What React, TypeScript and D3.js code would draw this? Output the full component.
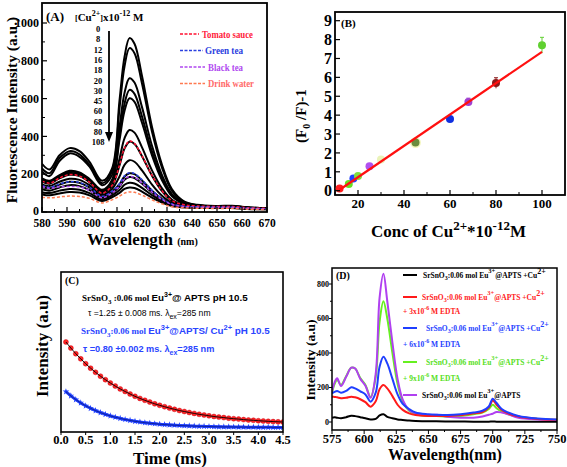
import React from 'react';
import * as d3 from 'd3';

const SERIF = "'Liberation Serif','Times New Roman',serif";
const SANS = "'Liberation Sans',Arial,sans-serif";

// ---------- Panel A ----------
const A_WL = [580, 583, 587, 591, 595, 599, 604, 608, 611, 613, 615, 617, 620, 624, 628, 632, 637, 642, 650, 656, 662, 670];
const A_CONC = ['0', '8', '12', '16', '18', '20', '30', '45', '60', '68', '80', '108'];
const A_C0 = [255, 225, 300, 338, 322, 265, 165, 230, 590, 820, 920, 890, 720, 450, 250, 120, 55, 38, 32, 33, 25, 20];
const A_C8 = [230, 205, 285, 322, 305, 250, 152, 215, 550, 770, 867, 840, 680, 425, 235, 112, 52, 36, 30, 32, 24, 20];
const A_C12 = [215, 190, 270, 310, 292, 240, 142, 195, 450, 630, 708, 685, 555, 350, 195, 95, 48, 35, 30, 31, 24, 20];
const A_C16 = [178, 165, 195, 218, 210, 175, 118, 170, 405, 572, 646, 625, 505, 320, 180, 88, 45, 34, 29, 30, 23, 19];
const A_C18 = [172, 160, 190, 212, 205, 170, 112, 162, 380, 535, 602, 583, 472, 300, 168, 83, 43, 33, 28, 29, 22, 19];
const A_C20 = [166, 155, 185, 206, 198, 165, 106, 145, 282, 390, 434, 420, 342, 220, 125, 65, 38, 31, 27, 28, 22, 18];
const A_C30 = [160, 150, 178, 197, 190, 158, 100, 138, 246, 336, 372, 360, 295, 192, 110, 58, 36, 30, 27, 27, 21, 18];
const A_C45 = [145, 137, 160, 176, 170, 142, 90, 122, 188, 249, 274, 266, 220, 145, 86, 48, 32, 28, 25, 26, 20, 17];
const A_C60 = [132, 125, 145, 160, 154, 130, 82, 108, 147, 188, 205, 200, 167, 113, 70, 41, 29, 26, 24, 24, 19, 16];
const A_C68 = [120, 113, 130, 142, 137, 116, 75, 100, 135, 171, 185, 180, 151, 103, 65, 39, 28, 25, 23, 23, 18, 16];
const A_C80 = [105, 100, 113, 122, 118, 100, 66, 88, 116, 144, 155, 151, 128, 89, 57, 35, 26, 23, 22, 22, 17, 15];
const A_C108 = [93, 88, 98, 106, 103, 88, 58, 78, 101, 122, 130, 127, 108, 76, 50, 32, 24, 22, 21, 21, 16, 14];
const A_TOMATO = [165, 152, 180, 198, 190, 158, 100, 140, 248, 338, 375, 362, 297, 194, 112, 60, 38, 32, 29, 29, 23, 19];
const A_GREENTEA = [140, 130, 148, 160, 156, 131, 83, 110, 149, 191, 208, 203, 170, 115, 71, 42, 30, 27, 25, 25, 20, 17];
const A_BLACKTEA = [135, 125, 133, 135, 133, 114, 76, 101, 137, 173, 188, 183, 153, 105, 66, 40, 29, 26, 24, 24, 19, 17];
const A_WATER = [78, 75, 80, 84, 82, 72, 48, 64, 84, 100, 106, 104, 89, 64, 43, 28, 22, 20, 19, 19, 15, 13];
const A_LEGEND = ['Tomato sauce', 'Green tea', 'Black tea', 'Drink water'];
const A_X_TICKS = [580, 590, 600, 610, 620, 630, 640, 650, 660, 670];
const A_Y_TICKS = [0, 200, 400, 600, 800, 1000];

// ---------- Panel B ----------
const B_CONC = [12, 16, 18, 20, 25, 30, 45, 60, 68, 80, 100];
const B_RATIO = [0.12, 0.35, 0.65, 0.78, 1.3, 1.65, 2.55, 3.8, 4.7, 5.7, 7.7];
const B_ERR = [0.05, 0.05, 0.08, 0.08, 0.1, 0.12, 0.12, 0.1, 0.2, 0.28, 0.42];
const B_COLORS = ['#ff2020', '#66e020', '#2040ff', '#80e040', '#b050f0', '#eaf3b8', '#6b8c3e', '#1030e0', '#a040d0', '#8b1a1a', '#60d030'];
const B_FIT_X = [12, 100];
const B_FIT_Y = [0.05, 7.35];
const B_X_TICKS = [20, 40, 60, 80, 100];
const B_Y_TICKS = [0, 1, 2, 3, 4, 5, 6, 7, 8, 9];

// ---------- Panel C ----------
const C_T = [0.1, 0.2, 0.3, 0.4, 0.5, 0.6, 0.7, 0.8, 0.9, 1.0, 1.1, 1.2, 1.3, 1.4, 1.5, 1.6, 1.7, 1.8, 1.9, 2.0, 2.1, 2.2, 2.3, 2.4, 2.5, 2.6, 2.7, 2.8, 2.9, 3.0, 3.1, 3.2, 3.3, 3.4, 3.5, 3.6, 3.7, 3.8, 3.9, 4.0, 4.1, 4.2, 4.3, 4.4, 4.5];
const C_APTS = [90, 83.9, 78.3, 73.2, 68.3, 63.8, 59.7, 55.8, 52.3, 49.0, 45.9, 43.1, 40.5, 38.0, 35.7, 33.6, 31.7, 29.9, 28.2, 26.7, 25.3, 23.9, 22.7, 21.5, 20.5, 19.5, 18.6, 17.7, 17.0, 16.2, 15.5, 14.9, 14.4, 13.8, 13.3, 12.9, 12.4, 12.0, 11.7, 11.3, 11.0, 10.7, 10.4, 10.2, 10.0];
const C_CU = [40.3, 36.1, 32.4, 29.1, 26.2, 23.7, 21.4, 19.4, 17.7, 16.1, 14.8, 13.6, 12.5, 11.6, 10.7, 10.0, 9.3, 8.8, 8.3, 7.8, 7.4, 7.1, 6.8, 6.5, 6.3, 6.1, 5.9, 5.7, 5.6, 5.5, 5.3, 5.2, 5.1, 5.1, 5.0, 4.9, 4.9, 4.8, 4.8, 4.7, 4.7, 4.7, 4.6, 4.6, 4.6];
const C_X_TICKS = [0, 0.5, 1.0, 1.5, 2.0, 2.5, 3.0, 3.5, 4.0, 4.5];

// ---------- Panel D ----------
const D_WL = [575, 577, 579, 582, 586, 590, 593, 597, 601, 605, 609, 612, 615, 618, 622, 626, 630, 635, 640, 650, 656, 665, 675, 685, 692, 697, 700, 703, 707, 712, 720, 735, 750];
const D_CU = [25, 28, 25, 22, 28, 36, 34, 28, 22, 15, 18, 38, 45, 30, 22, 15, 12, 8, 6, 4, 4, 3, 3, 2, 2, 2, 3, 2, 2, 2, 2, 2, 2];
const D_EDTA3 = [147, 145, 143, 138, 140, 147, 143, 132, 115, 89, 120, 190, 214, 195, 150, 100, 70, 50, 40, 35, 35, 35, 40, 50, 58, 85, 125, 100, 70, 50, 32, 18, 13];
const D_EDTA6 = [166, 175, 180, 170, 180, 201, 195, 178, 160, 118, 170, 320, 378, 340, 250, 160, 105, 75, 55, 45, 42, 40, 45, 55, 65, 90, 135, 110, 75, 55, 35, 20, 14];
const D_EDTA9 = [170, 220, 245, 215, 265, 315, 310, 255, 215, 145, 260, 580, 700, 600, 400, 220, 120, 65, 45, 35, 35, 30, 35, 45, 55, 75, 100, 80, 60, 45, 30, 18, 12];
const D_APTS = [176, 230, 253, 209, 262, 315, 310, 250, 210, 140, 280, 720, 860, 700, 460, 250, 130, 70, 50, 40, 42, 30, 25, 25, 32, 42, 48, 58, 55, 45, 25, 15, 12];
const D_X_TICKS = [575, 600, 625, 650, 675, 700, 725, 750];
const D_Y_TICKS = [0, 200, 400, 600, 800];

// scales
const xA = d3.scaleLinear().domain([580, 670]).range([42, 267]);
const yA = d3.scaleLinear().domain([0, 1000]).range([212, 23]);
const xB = d3.scaleLinear().domain([20, 100]).range([358, 542]);
const yB = d3.scaleLinear().domain([0, 9]).range([190.7, 20.7]);
const xC = d3.scaleLinear().domain([0, 4.5]).range([61, 283]);
const yC = d3.scaleLinear().domain([0, 160]).range([432, 272]);
const xD = d3.scaleLinear().domain([575, 750]).range([332, 557]);
const yD = d3.scaleLinear().domain([0, 800]).range([422, 284]);

function lineOf(xs: number[], ys: number[], sx: any, sy: any, curve: any = d3.curveCatmullRom) {
  const pts = xs.map((x, i) => [x, ys[i]] as [number, number]);
  return d3.line<[number, number]>().x(d => sx(d[0])).y(d => sy(d[1])).curve(curve)(pts) || '';
}

const bold = { fontFamily: SERIF, fontWeight: 700 } as const;

function PanelA() {
  const blacks = [A_C0, A_C8, A_C12, A_C16, A_C18, A_C20, A_C30, A_C45, A_C60, A_C68, A_C80, A_C108];
  const dashed = [
    { d: A_TOMATO, c: '#ff1030' },
    { d: A_GREENTEA, c: '#2a40e0' },
    { d: A_BLACKTEA, c: '#b048f0' },
    { d: A_WATER, c: '#ff7a50' },
  ];
  const legendText = ['#ff1a3a', '#2a40e0', '#b048f0', '#ff6a6a'];
  const legendX = [202, 205, 208, 208];
  const legendW = [51, 38, 35, 46];
  const dashEnd = [199, 203, 205, 205];
  const minorX = d3.range(585, 670, 10);
  const minorY = d3.range(100, 1100, 200);
  return (
    <g>
      <defs>
        <clipPath id="clipA"><rect x={42} y={3} width={225} height={209} /></clipPath>
      </defs>
      <g clipPath="url(#clipA)">
        {blacks.map((c, i) => (
          <path key={i} d={lineOf(A_WL, c, xA, yA)} fill="none" stroke="#000" strokeWidth={2} />
        ))}
        {dashed.map((s, i) => (
          <path key={i} d={lineOf(A_WL, s.d, xA, yA)} fill="none" stroke={s.c} strokeWidth={1.5} strokeDasharray="3,2" />
        ))}
      </g>
      <rect x={42} y={3} width={225} height={209} fill="none" stroke="#000" strokeWidth={1.8} />
      {A_X_TICKS.map(t => (
        <g key={t}>
          <line x1={xA(t)} x2={xA(t)} y1={212} y2={207} stroke="#000" strokeWidth={1.2} />
          <text x={xA(t)} y={227} textAnchor="middle" fontSize={11.5} {...bold}>{t}</text>
        </g>
      ))}
      {minorX.map(t => <line key={t} x1={xA(t)} x2={xA(t)} y1={212} y2={209} stroke="#000" strokeWidth={1} />)}
      {A_Y_TICKS.map(t => (
        <g key={t}>
          <line x1={42} x2={47} y1={yA(t)} y2={yA(t)} stroke="#000" strokeWidth={1.2} />
          <text x={39} y={t === 0 ? yA(t) - 1 : yA(t)} dy="0.35em" textAnchor="end" fontSize={12} {...bold}>{t}</text>
        </g>
      ))}
      {minorY.map(t => <line key={t} x1={42} x2={45} y1={yA(t)} y2={yA(t)} stroke="#000" strokeWidth={1} />)}
      <text transform="translate(17,110) rotate(-90)" textAnchor="middle" fontSize={15.5} {...bold}>Fluorescence Intensity (a.u.)</text>
      <text x={87} y={245} fontSize={17} {...bold}>Wavelength <tspan fontSize={10}>(nm)</tspan></text>
      <text x={46} y={21} fontSize={13} {...bold}>(A)</text>
      <text x={75} y={21} fontSize={11} {...bold}>
        <tspan fontSize={8}>[</tspan>Cu<tspan dy={-5} fontSize={8}>2+</tspan><tspan dy={5} fontSize={8}>]</tspan>x10<tspan dy={-5} fontSize={8}>-12</tspan><tspan dy={5}> M</tspan>
      </text>
      {A_CONC.map((c, i) => (
        <text key={c} x={98} y={32 + i * 10.3} textAnchor="middle" fontSize={8.5} fill="#000" {...bold}>{c}</text>
      ))}
      <line x1={109} x2={109} y1={31} y2={134} stroke="#000" strokeWidth={1.8} />
      <path d="M105,132 L113,132 L109,142 Z" fill="#000" />
      {A_LEGEND.map((l, i) => (
        <g key={l}>
          <line x1={180} x2={dashEnd[i]} y1={34 + i * 16.5} y2={34 + i * 16.5} stroke={dashed[i].c} strokeWidth={1.5} strokeDasharray="3,1.5" />
          <text x={legendX[i]} y={34 + i * 16.5} dy="0.35em" fontSize={10.5} fill={legendText[i]} textLength={legendW[i]} lengthAdjust="spacingAndGlyphs" {...bold}>{l}</text>
        </g>
      ))}
    </g>
  );
}

function PanelB() {
  const minorX = d3.range(10, 110, 10).filter(v => v % 20 !== 0);
  return (
    <g>
      <rect x={335} y={12} width={230} height={183} fill="none" stroke="#000" strokeWidth={1.8} />
      {B_CONC.map((c, i) => (
        <g key={i}>
          <line x1={xB(c)} x2={xB(c)} y1={yB(B_RATIO[i] - B_ERR[i])} y2={yB(B_RATIO[i] + B_ERR[i])} stroke={B_COLORS[i]} strokeWidth={1} />
          <line x1={xB(c) - 2} x2={xB(c) + 2} y1={yB(B_RATIO[i] + B_ERR[i])} y2={yB(B_RATIO[i] + B_ERR[i])} stroke={B_COLORS[i]} strokeWidth={1} />
          {i === 6 && <circle cx={xB(c)} cy={yB(B_RATIO[i])} r={5.5} fill="#f4f7c0" />}
          <circle cx={xB(c)} cy={yB(B_RATIO[i])} r={4} fill={B_COLORS[i]} />
        </g>
      ))}
      <line x1={xB(B_FIT_X[0])} x2={xB(B_FIT_X[1])} y1={yB(B_FIT_Y[0])} y2={yB(B_FIT_Y[1])} stroke="#ff1010" strokeWidth={2.2} />
      {B_X_TICKS.map(t => (
        <g key={t}>
          <line x1={xB(t)} x2={xB(t)} y1={195} y2={190} stroke="#000" strokeWidth={1.2} />
          <text x={xB(t)} y={208} textAnchor="middle" fontSize={13} {...bold}>{t}</text>
        </g>
      ))}
      {minorX.map(t => <line key={t} x1={xB(t)} x2={xB(t)} y1={195} y2={192} stroke="#000" strokeWidth={1} />)}
      {B_Y_TICKS.map(t => (
        <g key={t}>
          <line x1={335} x2={340} y1={yB(t)} y2={yB(t)} stroke="#000" strokeWidth={1.2} />
          <text x={332} y={yB(t)} dy="0.36em" textAnchor="end" fontSize={16} {...bold}>{t}</text>
        </g>
      ))}
      <text x={341} y={27} fontSize={11} {...bold}>(B)</text>
      <text transform="translate(306,116) rotate(-90)" textAnchor="middle" fontSize={15} {...bold}>
        (F<tspan dy={4} fontSize={10}>0</tspan><tspan dy={-4}> /F)-1</tspan>
      </text>
      <text x={371} y={237} fontSize={17} {...bold}>
        Conc of Cu<tspan dy={-7} fontSize={13}>2+</tspan><tspan dy={7}>*10</tspan><tspan dy={-7} fontSize={13}>-12</tspan><tspan dy={7}>M</tspan>
      </text>
    </g>
  );
}

function PanelC() {
  return (
    <g>
      <defs>
        <clipPath id="clipC"><rect x={61} y={272} width={222} height={160} /></clipPath>
      </defs>
      <g clipPath="url(#clipC)">
        <path d={lineOf(C_T, C_CU, xC, yC, d3.curveMonotoneX)} fill="none" stroke="#2a45ff" strokeWidth={3} />
        {C_T.map((t, i) => (
          <path key={i} d={d3.symbol().type(d3.symbolStar).size(14)() || ''} transform={`translate(${xC(t)},${yC(C_CU[i])})`} fill="#1a3cff" />
        ))}
        <path d={lineOf(C_T, C_CU, xC, yC, d3.curveMonotoneX)} fill="none" stroke="#0a1a80" strokeWidth={0.8} />
        {C_T.map((t, i) => (
          <circle key={i} cx={xC(t)} cy={yC(C_APTS[i])} r={2.5} fill="#ff2424" stroke="#c00010" strokeWidth={0.4} />
        ))}
        <path d={lineOf(C_T, C_APTS, xC, yC, d3.curveMonotoneX)} fill="none" stroke="#000" strokeWidth={0.9} />
      </g>
      <rect x={61} y={272} width={222} height={160} fill="none" stroke="#000" strokeWidth={1.6} />
      {C_X_TICKS.map(t => (
        <g key={t}>
          <line x1={xC(t)} x2={xC(t)} y1={432} y2={435} stroke="#000" strokeWidth={1} />
          <text x={xC(t)} y={444} textAnchor="middle" fontSize={12.5} {...bold}>{t.toFixed(1)}</text>
        </g>
      ))}
      <text x={133} y={464} fontSize={17} {...bold}>Time (ms)</text>
      <text transform="translate(48,346) rotate(-90)" textAnchor="middle" fontSize={17} {...bold}>Intensity (a.u)</text>
      <text x={65} y={284} fontSize={10} {...bold}>(C)</text>
      <text x={82} y={301} fontSize={9} fontFamily={SERIF} fontWeight={700}>
        SrSnO<tspan dy={3} fontSize={7}>3</tspan><tspan dy={-3}> :0.06 mol  </tspan>
        <tspan fontFamily={SANS} fontSize={9.8}>Eu</tspan><tspan dy={-4} fontFamily={SANS} fontSize={7}>3+</tspan><tspan dy={4} fontFamily={SANS} fontSize={9.8}>@ APTS  pH 10.5</tspan>
      </text>
      <text x={88} y={316} fontSize={8.6} fontFamily={SANS} fontWeight={500}>
        τ =1.25 ± 0.008 ms. λ<tspan dy={3} fontSize={7}>ex</tspan><tspan dy={-3}>=285 nm</tspan>
      </text>
      <text x={81} y={334} fontSize={9} fontFamily={SERIF} fontWeight={700} fill="#2a45ff">
        SrSnO<tspan dy={3} fontSize={7}>3</tspan><tspan dy={-3}>:0.06 mol  </tspan>
        <tspan fontFamily={SANS} fontSize={9.8}>Eu</tspan><tspan dy={-4} fontFamily={SANS} fontSize={7.5}>3+</tspan><tspan dy={4} fontFamily={SANS} fontSize={9.8}>@APTS/ Cu</tspan><tspan dy={-4} fontFamily={SANS} fontSize={7.5}>2+</tspan><tspan dy={4} fontFamily={SANS} fontSize={9.8}>  pH 10.5</tspan>
      </text>
      <text x={83} y={352} fontSize={9.2} fontFamily={SANS} fontWeight={700} fill="#2a45ff">
        τ  =0.80 ±0.002 ms. λ<tspan dy={3} fontSize={7}>ex</tspan><tspan dy={-3}>=285 nm</tspan>
      </text>
    </g>
  );
}

function PanelD() {
  const series = [
    { d: D_CU, c: '#000000' },
    { d: D_EDTA9, c: '#66f020' },
    { d: D_APTS, c: '#b040f0' },
    { d: D_EDTA3, c: '#ff1a1a' },
    { d: D_EDTA6, c: '#1f3fff' },
  ];
  const legend = [
    { y: 275, c: '#000000', extra: '', tail: '+Cu', sup2: '2+', x: 423, ey: 0 },
    { y: 297, c: '#ff1a1a', extra: '+ 3x10', tail: '+Cu', sup2: '2+', x: 422, ey: 314 },
    { y: 328, c: '#1f3fff', extra: '+ 6x10', tail: '+Cu', sup2: '2+', x: 426, ey: 347 },
    { y: 362, c: '#55e020', extra: '+ 9x10', tail: '+Cu', sup2: '2+', x: 426, ey: 381 },
    { y: 395, c: '#000000', extra: '', tail: '', sup2: '', x: 422, ey: 0 },
  ];
  const lineColors = ['#000000', '#ff1a1a', '#1f3fff', '#66f020', '#b040f0'];
  const minorX = d3.range(587.5, 750, 25);
  const minorY = d3.range(100, 900, 200);
  return (
    <g>
      <defs>
        <clipPath id="clipD"><rect x={332} y={268} width={225} height={162} /></clipPath>
      </defs>
      <g clipPath="url(#clipD)">
        {series.map((s, i) => (
          <path key={i} d={lineOf(D_WL, s.d, xD, yD)} fill="none" stroke={s.c} strokeWidth={2} />
        ))}
      </g>
      <rect x={332} y={268} width={225} height={162} fill="none" stroke="#000" strokeWidth={1.5} />
      {D_X_TICKS.map(t => (
        <g key={t}>
          <line x1={xD(t)} x2={xD(t)} y1={430} y2={434} stroke="#000" strokeWidth={1} />
          <text x={xD(t)} y={443} textAnchor="middle" fontSize={12.5} {...bold}>{t}</text>
        </g>
      ))}
      {minorX.map(t => <line key={t} x1={xD(t)} x2={xD(t)} y1={430} y2={432} stroke="#000" strokeWidth={1} />)}
      {D_Y_TICKS.map(t => (
        <g key={t}>
          <line x1={329} x2={332} y1={yD(t)} y2={yD(t)} stroke="#000" strokeWidth={1} />
          <text x={329} y={yD(t)} dy="0.35em" textAnchor="end" fontSize={8} {...bold}>{t}</text>
        </g>
      ))}
      {minorY.map(t => <line key={t} x1={330} x2={332} y1={yD(t)} y2={yD(t)} stroke="#000" strokeWidth={1} />)}
      <text transform="translate(315,360) rotate(-90)" textAnchor="middle" fontSize={13.5} {...bold}>Intensity (a.u)</text>
      <text x={445} y={460} textAnchor="middle" fontSize={16} {...bold}>Wavelength(nm)</text>
      <text x={336} y={279} fontSize={10} {...bold}>(D)</text>
      {legend.map((l, i) => (
        <g key={i}>
          <line x1={403} x2={417} y1={l.y} y2={l.y} stroke={lineColors[i]} strokeWidth={2} />
          <text x={l.x} y={l.y + 3} fontSize={7.5} fill={l.c} {...bold}>
            SrSnO<tspan dy={2} fontSize={6}>3</tspan><tspan dy={-2}>:0.06 mol Eu</tspan><tspan dy={-5} fontSize={6.5}>3+</tspan><tspan dy={5}>@APTS {l.tail}</tspan>
            {l.sup2 && <tspan dy={-4} fontSize={8}>{l.sup2}</tspan>}
          </text>
          {l.extra && (
            <text x={403} y={l.ey} fontSize={7.5} fill={l.c} {...bold}>
              {l.extra}<tspan dy={-4} fontSize={6}>-6</tspan><tspan dy={4}> M EDTA</tspan>
            </text>
          )}
        </g>
      ))}
    </g>
  );
}

export default function App() {
  return (
    <svg width={567} height={467} viewBox="0 0 567 467" style={{ position: 'absolute', left: 0, top: 0, background: '#fff' }}>
      <rect width={567} height={467} fill="#fff" />
      <PanelA />
      <PanelB />
      <PanelC />
      <PanelD />
    </svg>
  );
}
